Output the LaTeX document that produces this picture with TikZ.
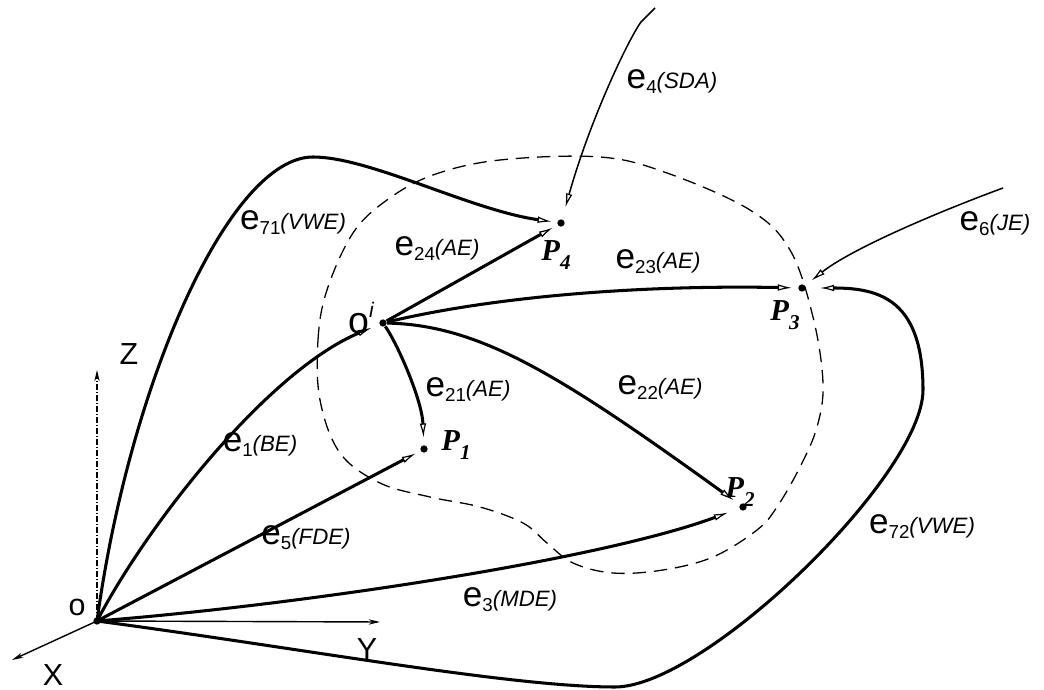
\documentclass[tikz,border=0pt]{standalone}
\usepackage{fontspec}
\setmainfont{Liberation Sans}
\newfontfamily\pserif{Liberation Serif}
\usetikzlibrary{arrows.meta}

% edge label: big e, small index, italic kind
\newcommand{\elab}[2]{{\fontsize{15}{15}\selectfont e}\raisebox{-0.4ex}{\fontsize{8}{8}\selectfont #1}{\fontsize{9.5}{9.5}\selectfont\itshape(#2)}}
% point label
\newcommand{\plab}[1]{{\pserif\bfseries\itshape\fontsize{13}{13}\selectfont P\raisebox{-0.6ex}{\fontsize{9}{9}\selectfont #1}}}

\begin{document}
\begin{tikzpicture}[
  x=0.015cm, y=-0.015cm,
  dot/.style={circle, fill, inner sep=0pt, minimum size=0.11cm},
  edge/.style={line width=1.3pt, shorten >=0.08cm,
               -{Latex[open, length=0.21cm, width=0.1cm, line width=0.5pt]}},
  feed/.style={line width=0.65pt, shorten >=0.14cm,
               -{Latex[open, length=0.21cm, width=0.1cm, line width=0.5pt]}},
  axis/.style={line width=0.6pt, -{Stealth[length=0.17cm, width=0.08cm]}},
  bound/.style={line width=0.55pt, dash pattern=on 0.2cm off 0.12cm},
  ax/.style={inner sep=0pt, font=\fontsize{13}{13}\selectfont},
  lbl/.style={inner sep=0pt},
]
  \useasboundingbox (0,0) rectangle (1044,690);

  % points
  \node[dot] (O)  at (97,621)  {};
  \node[dot] (Oi) at (383,323) {};
  \node[dot] (P1) at (424,449) {};
  \node[dot] (P2) at (743,507) {};
  \node[dot] (P3) at (802,288) {};
  \node[dot] (P4) at (561,223) {};

  % axes
  \coordinate (xend) at (12,660);
  \coordinate (yend) at (380,622);
  \coordinate (zend) at (97,370);
  \draw[axis] (O.center) -- (xend);
  \draw[axis] (O.center) -- (yend);
  \draw[axis, dash pattern=on 0.09cm off 0.03cm on 0.015cm off 0.03cm] (O.center) -- (zend);
  \node[ax] (xlab) at (53,675) {X};
  \node[ax] (ylab) at (367,649) {Y};
  \node[ax] (zlab) at (129,354) {Z};
  \node[ax] (olab) at (77,607) {o};
  \node[ax] (oilab) at (361,318) {{\fontsize{16}{16}\selectfont o}\raisebox{1.0ex}{\fontsize{9}{9}\selectfont\itshape i}};

  % point labels
  \node[lbl] (p1lab) at (456,445) {\plab{1}};
  \node[lbl] (p2lab) at (740,492) {\plab{2}};
  \node[lbl] (p3lab) at (785,315) {\plab{3}};
  \node[lbl] (p4lab) at (556,255) {\plab{4}};

  % boundary of the workspace
  \draw[bound] plot[smooth cycle, tension=0.6] coordinates {
    (320,400) (318,340) (327,290) (353,233) (387,200) (433,175) (500,160)
    (600,157) (667,173) (750,210) (790,250) (813,317) (823,383) (817,427)
    (800,467) (777,507) (757,530) (713,557) (663,570) (613,573) (573,563)
    (547,543) (523,523) (480,507) (430,497) (380,483) (340,453)};

  % edges from o
  \coordinate (t71) at (313,157);
  \draw[edge] (O.center) .. controls (130,380) and (230,157) .. (t71)
    .. controls (370,157) and (470,210) .. (P4);
  \draw[edge, shorten >=0.125cm] (O.center) .. controls (150,520) and (270,370) .. (Oi);
  \draw[edge] (O.center) -- (P1);
  \draw[edge, shorten >=0.18cm] (O.center) .. controls (300,605) and (600,560) .. (P2);
  \coordinate (b72) at (615,687);
  \coordinate (r72) at (923,390);
  \draw[edge, shorten >=0.21cm] (O.center) .. controls (300,648) and (510,687) .. (b72)
    .. controls (705,687) and (923,475) .. (r72)
    .. controls (923,300) and (880,288) .. (P3);

  % edges from o^i
  \draw[edge] (Oi) -- (P4);
  \draw[edge, shorten >=0.09cm] (Oi) .. controls (500,295) and (650,285) .. (P3);
  \draw[edge, shorten >=0.11cm] (Oi) .. controls (398,345) and (422,400) .. (P1);
  \draw[edge, shorten >=0.11cm] (Oi) .. controls (480,325) and (560,375) .. (P2);

  % external loads
  \coordinate (s4) at (655,8);
  \coordinate (s6) at (1003,188);
  \draw[feed, shorten >=0.18cm] (s4) -- (641,22) .. controls (628,40) and (590,120) .. (P4);
  \draw[feed, shorten >=0.12cm] (s6) .. controls (930,215) and (850,250) .. (P3);

  % edge labels
  \node[lbl] (l71) at (293,223) {\elab{71}{VWE}};
  \node[lbl] (l24) at (437,249) {\elab{24}{AE}};
  \node[lbl] (l23) at (658,262) {\elab{23}{AE}};
  \node[lbl] (l1)  at (260,445) {\elab{1}{BE}};
  \node[lbl] (l21) at (468,390) {\elab{21}{AE}};
  \node[lbl] (l22) at (660,388) {\elab{22}{AE}};
  \node[lbl] (l5)  at (306,538) {\elab{5}{FDE}};
  \node[lbl] (l3)  at (510,600) {\elab{3}{MDE}};
  \node[lbl] (l72) at (922,527) {\elab{72}{VWE}};
  \node[lbl] (l4)  at (672,82)  {\elab{4}{SDA}};
  \node[lbl] (l6)  at (995,224) {\elab{6}{JE}};
\end{tikzpicture}
\end{document}
